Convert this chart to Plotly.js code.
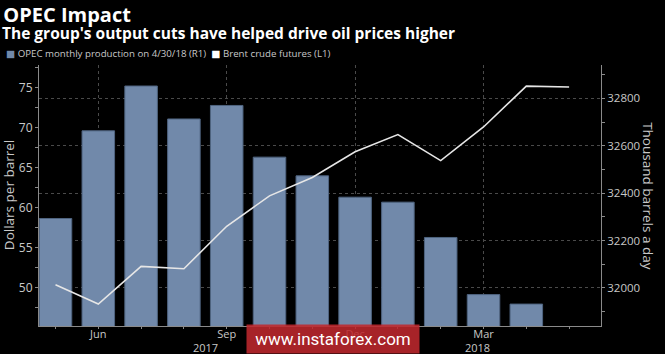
<!DOCTYPE html>
<html><head><meta charset="utf-8">
<script src="https://cdn.plot.ly/plotly-3.0.1.min.js"></script>
<style>html,body{margin:0;padding:0;background:#000;}#chart{width:665px;height:354px;}</style>
</head><body><div id="chart"></div>
<script>
const months = ['2017-05','2017-06','2017-07','2017-08','2017-09','2017-10','2017-11','2017-12','2018-01','2018-02','2018-03','2018-04','2018-05'];
const productionMonths = months.slice(0, 12);
const opecProduction = [32293, 32663, 32852, 32713, 32770, 32552, 32473, 32383, 32362, 32213, 31972, 31932];
const brentPrice = [50.4, 48.0, 52.7, 52.4, 57.7, 61.5, 63.8, 67.0, 69.15, 65.9, 70.1, 75.2, 75.1];
const tickMonths = ['2017-06','2017-09','2017-12','2018-03'];
const tickLabels = ['Jun','Sep','Dec','Mar'];
const yearLabels = ['2017','2018'];

const FONT = 'Open Sans, DejaVu Sans, sans-serif';
const barColor = '#7189aa';

const traces = [
  {type:'bar', x: productionMonths, y: opecProduction, yaxis:'y', name:'OPEC monthly production on 4/30/18 (R1)',
   marker:{color:barColor, line:{color:'#4f6480', width:1}}, hoverinfo:'skip'},
  {type:'scatter', mode:'lines', x: months, y: brentPrice, yaxis:'y2', name:'Brent crude futures (L1)',
   line:{color:'#e6e6e6', width:1.6}, hoverinfo:'skip'}
];

const layout = {
  width:665, height:354,
  paper_bgcolor:'#000', plot_bgcolor:'#000',
  margin:{l:39, r:64, t:65, b:28},
  showlegend:false,
  bargap:0.24,
  font:{family:FONT, color:'#c8c8c8', size:11},
  title:{text:'<b>OPEC Impact</b>', font:{family:FONT, size:20, color:'#ffffff'},
         xref:'container', yref:'container', x:0.005, xanchor:'left', y:1-14.5/354, yanchor:'middle'},
  xaxis:{type:'category', categoryorder:'array', categoryarray: months,
         range:[-0.3855, 12.745], showline:true, linecolor:'#8a8a8a', linewidth:1,
         tickmode:'array', tickvals: tickMonths, ticktext: tickLabels,
         ticks:'outside', ticklen:2, tickcolor:'#8a8a8a', ticklabelstandoff:-4,
         minor:{tickmode:'linear', tick0:0, dtick:1, ticks:'outside', ticklen:2, tickcolor:'#8a8a8a', showgrid:false},
         showgrid:true, gridcolor:'#4a4a4a', griddash:'dot', gridwidth:1,
         tickfont:{size:11, color:'#c8c8c8'}, zeroline:false},
  yaxis:{side:'right', range:[31839.5, 32940.7], tickvals:[32000,32200,32400,32600,32800], tickformat:'d',
         showline:true, linecolor:'#8a8a8a', ticks:'outside', ticklen:3, tickcolor:'#8a8a8a',
         minor:{tickvals:[31900,32100,32300,32500,32700,32900], ticks:'outside', ticklen:3, tickcolor:'#8a8a8a', showgrid:false},
         showgrid:true, gridcolor:'#4a4a4a', griddash:'dot', gridwidth:1, zeroline:false,
         tickfont:{size:11.5, color:'#c8c8c8'}},
  yaxis2:{side:'left', overlaying:'y', range:[45.25, 77.84], tickvals:[50,55,60,65,70,75],
          showline:true, linecolor:'#8a8a8a', ticks:'outside', ticklen:3, tickcolor:'#8a8a8a',
          minor:{tickvals:[47.5,52.5,57.5,62.5,67.5,72.5,77.5], ticks:'outside', ticklen:3, tickcolor:'#8a8a8a', showgrid:false},
          showgrid:false, zeroline:false, tickfont:{size:12, color:'#c8c8c8'}},
  annotations:[
    {text:'<b>The group\'s output cuts have helped drive oil prices higher</b>', xref:'paper', yref:'paper',
     x:-39/562, y:(325.7-33.5)/260.7, xanchor:'left', yanchor:'middle', showarrow:false,
     font:{family:FONT, size:15.5, color:'#ffffff'}},
    {text:'<span style="color:'+barColor+'">■</span> OPEC monthly production on 4/30/18 (R1)  <span style="color:#ffffff">■</span> Brent crude futures (L1)',
     xref:'paper', yref:'paper', x:-35/562, y:(325.7-54)/260.7, xanchor:'left', yanchor:'middle', showarrow:false,
     font:{family:FONT, size:9.7, color:'#c8c8c8'}},
    {text:'Dollars per barrel', textangle:-90, xref:'paper', yref:'paper', x:-30/562, y:(325.7-195)/260.7,
     xanchor:'center', yanchor:'middle', showarrow:false, font:{family:FONT, size:13.5, color:'#c8c8c8'}},
    {text:'Thousand barrels a day', textangle:90, xref:'paper', yref:'paper', x:(648-39)/562, y:(325.7-196)/260.7,
     xanchor:'center', yanchor:'middle', showarrow:false, font:{family:FONT, size:13.5, color:'#c8c8c8'}},
    {text: yearLabels[0], xref:'x', yref:'paper', x:3.5, y:(325.7-347.5)/260.7, xanchor:'center', yanchor:'middle', showarrow:false,
     font:{family:FONT, size:11, color:'#c8c8c8'}},
    {text: yearLabels[1], xref:'x', yref:'paper', x:9.85, y:(325.7-347.5)/260.7, xanchor:'center', yanchor:'middle', showarrow:false,
     font:{family:FONT, size:11, color:'#c8c8c8'}},
    {text:'www.instaforex.com', xref:'paper', yref:'paper', x:(333-39)/562, y:(325.7-339)/260.7, xanchor:'center', yanchor:'middle',
     showarrow:false, bgcolor:'rgba(190,40,45,0.88)', width:170, height:26, font:{family:'Roboto, Open Sans, sans-serif', size:17, color:'#ffffff'}}
  ]
};
Plotly.newPlot('chart', traces, layout, {displayModeBar:false, staticPlot:true});
</script></body></html>
